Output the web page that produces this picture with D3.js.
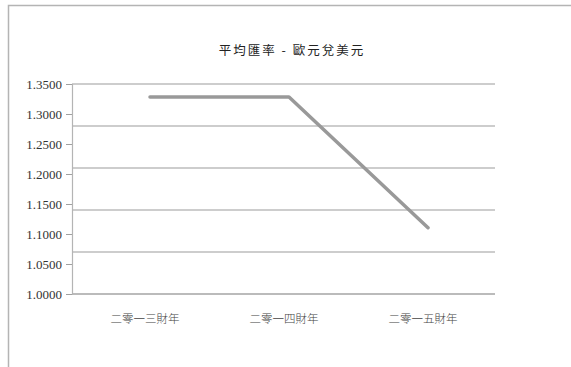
<!DOCTYPE html>
<html>
<head>
<meta charset="utf-8">
<script src="https://cdn.jsdelivr.net/npm/d3@7"></script>
<style>
  html, body { margin: 0; padding: 0; background: #fff; }
  svg { display: block; }
</style>
</head>
<body>
<script>
// Average EUR/USD exchange rate by financial year
const categories = ["二零一三財年", "二零一四財年", "二零一五財年"];
const rates = [1.3282, 1.3285, 1.1104];
const tickValues = [1.00, 1.05, 1.10, 1.15, 1.20, 1.25, 1.30, 1.35];
const gridValues = [1.00, 1.07, 1.14, 1.21, 1.28, 1.35];
const title = "平均匯率 - 歐元兌美元";

const W = 571, H = 367;
const svg = d3.select("body").append("svg").attr("width", W).attr("height", H);

// outer frame (top and left edges visible)
svg.append("path")
  .attr("d", `M8.5,${H} L8.5,5.5 L${W},5.5`)
  .attr("fill", "none").attr("stroke", "#b4b4b4").attr("stroke-width", 1.5);

const plotLeft = 72, plotRight = 495;
const y = d3.scaleLinear().domain([1.0, 1.35]).range([294, 84]);
const x = d3.scalePoint().domain(categories).range([150, 428]);

// horizontal gridlines
svg.append("g").selectAll("line").data(gridValues).join("line")
  .attr("x1", plotLeft).attr("x2", plotRight)
  .attr("y1", d => y(d)).attr("y2", d => y(d))
  .attr("stroke", "#bdbdbd").attr("stroke-width", 1.5);

// y axis
const yAxis = d3.axisLeft(y).tickValues(tickValues).tickFormat(d3.format(".4f")).tickSize(6).tickPadding(4);
const gy = svg.append("g").attr("transform", `translate(${plotLeft},0)`).call(yAxis)
  .attr("font-family", null).attr("font-size", null);
gy.select(".domain").attr("stroke", "#b4b4b4").attr("stroke-width", 1.2);
gy.selectAll(".tick line").attr("stroke", "#a0a0a0");
gy.selectAll(".tick text")
  .style("font-family", "'Liberation Serif', 'Times New Roman', serif")
  .style("font-size", "13px").attr("fill", "#333");

// x axis baseline
svg.append("line")
  .attr("x1", plotLeft).attr("x2", plotRight)
  .attr("y1", y(1.0)).attr("y2", y(1.0))
  .attr("stroke", "#b4b4b4").attr("stroke-width", 1.5);

// category labels
svg.append("g").selectAll("text").data(categories).join("text")
  .attr("x", d => x(d) - 5).attr("y", 323)
  .attr("text-anchor", "middle")
  .style("font-family", "'Noto Sans CJK TC', sans-serif")
  .attr("font-weight", 300)
  .attr("font-size", 11.5).attr("fill", "#444")
  .text(d => d);

// rate line
const line = d3.line().x((d, i) => x(categories[i])).y(d => y(d));
svg.append("path").datum(rates)
  .attr("d", line)
  .attr("fill", "none").attr("stroke", "#999")
  .attr("stroke-width", 3.5).attr("stroke-linecap", "round").attr("stroke-linejoin", "round");

// title
svg.append("text")
  .attr("x", 292).attr("y", 55)
  .attr("text-anchor", "middle")
  .style("font-family", "'Noto Sans CJK TC', sans-serif")
  .attr("font-size", 12.5).attr("letter-spacing", 2).attr("fill", "#222")
  .text(title);
</script>
</body>
</html>
